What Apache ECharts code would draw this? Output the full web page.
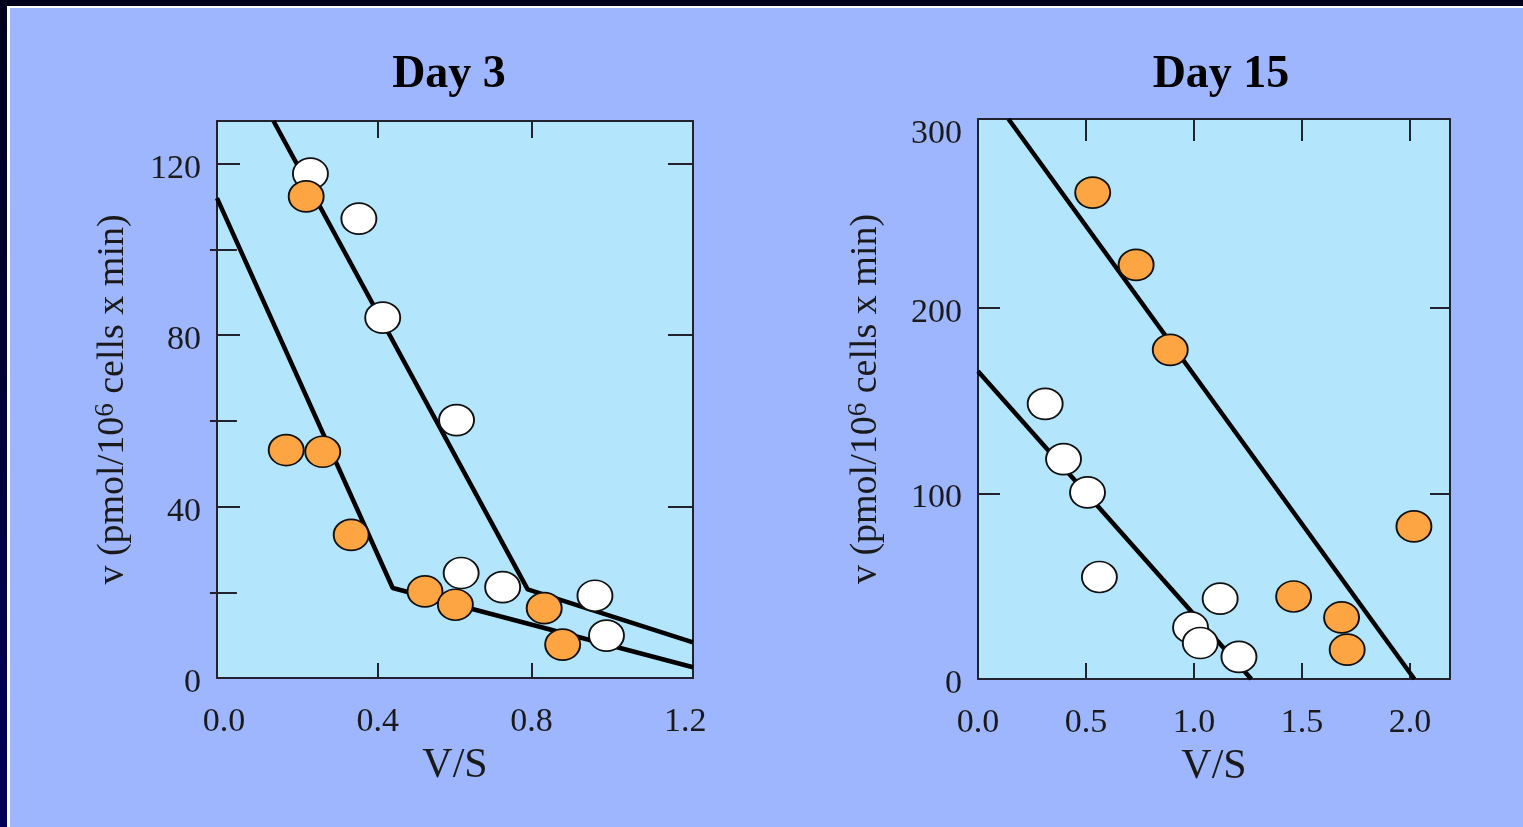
<!DOCTYPE html>
<html>
<head>
<meta charset="utf-8">
<script src="https://cdn.jsdelivr.net/npm/echarts@6/dist/echarts.min.js"></script>
<style>
html,body{margin:0;padding:0;}
#c{width:1523px;height:827px;}
</style>
</head>
<body>
<div id="c"></div>
<script>
// ---- data ----
const titles = ['Day 3', 'Day 15'];
const xName = 'V/S';

const day3XTicks = [0.0, 0.4, 0.8, 1.2];
const day3YMajor = [0, 40, 80, 120];
const day3YMinor = [20, 60, 100];
const day15XTicks = [0.0, 0.5, 1.0, 1.5, 2.0];
const day15YTicks = [0, 100, 200, 300];

const day3White = [[0.225,117.7],[0.351,107.2],[0.413,84.1],[0.605,60.2],[0.617,24.5],[0.725,21.2],[0.965,19.2],[0.995,9.9]];
const day3Orange = [[0.214,112.4],[0.162,53.2],[0.257,52.8],[0.331,33.4],[0.523,20.2],[0.602,17.1],[0.833,16.3],[0.881,7.8]];
const day3WhiteFit = [[0.129,130],[0.79,20.7],[1.22,8.3]];
const day3OrangeFit = [[-0.018,112],[0.439,21],[1.22,2.5]];

const day15White = [[0.311,148.4],[0.396,118.6],[0.507,100.6],[0.562,55],[0.984,27.8],[1.029,19.4],[1.121,43.3],[1.208,11.9]];
const day15Orange = [[0.531,262.3],[0.732,223.3],[0.89,177.5],[1.461,44.5],[1.683,33.2],[1.709,15.8],[2.018,82.3]];
const day15OrangeFit = [[0.141,302],[2.02,0]];
const day15WhiteFit = [[0,166],[1.265,0]];

// ---- styles ----
const SERIF = '"Liberation Serif", "DejaVu Serif", serif';
const INK = '#1a1a1a';
const FRAME = '#22222e';
const ORANGE = '#fda443';
const PLOTBG = '#b3e5fc';
const PAGE = '#9eb6fd';

const chart = echarts.init(document.getElementById('c'));

function boxLine(){ return {show:true, onZero:false, lineStyle:{color:FRAME, width:2}}; }
function ticks(vals, len){ return {show:true, inside:true, length:len, customValues:vals, lineStyle:{color:FRAME, width:2}}; }
const labelStyle = {color:INK, fontFamily:SERIF, fontSize:34};

const yLabelRich = {
  n:{fontFamily:SERIF, fontSize:34, color:INK, padding:[10,0,0,0]},
  t:{fontFamily:SERIF, fontSize:34, color:INK, padding:[22,0,0,0]}
};
function yLabelFmt(v){ return (v === 300 ? '{t|' : '{n|') + v + '}'; }

const yNameRich = {
  sup:{fontSize:27, fontFamily:SERIF, color:INK, verticalAlign:'top', padding:[0,0,16,0]}
};
const yNameText = 'v (pmol/10{sup|6} cells x min)';

const grids = [
  {left:217, top:121, width:476, height:557, show:true, backgroundColor:PLOTBG, borderWidth:0},
  {left:978, top:119, width:472, height:560, show:true, backgroundColor:PLOTBG, borderWidth:0}
];

const xAxes = [
  // Day 3 bottom
  {gridIndex:0, type:'value', position:'bottom', min:-0.018, max:1.22,
   axisLine:boxLine(), axisTick:ticks([0.4,0.8],15), splitLine:{show:false},
   axisLabel:Object.assign({customValues:day3XTicks, margin:27, formatter:v=>v.toFixed(1)}, labelStyle),
   name:xName, nameLocation:'middle', nameGap:67,
   nameTextStyle:{fontFamily:SERIF, fontSize:42, color:INK}},
  // Day 3 top
  {gridIndex:0, type:'value', position:'top', min:-0.018, max:1.22,
   axisLine:boxLine(), axisTick:ticks([0.4,0.8],17), splitLine:{show:false}, axisLabel:{show:false}},
  // Day 15 bottom
  {gridIndex:1, type:'value', position:'bottom', min:0, max:2.185,
   axisLine:boxLine(), axisTick:ticks([0.5,1.0,1.5,2.0],16), splitLine:{show:false},
   axisLabel:Object.assign({customValues:day15XTicks, margin:27, formatter:v=>v.toFixed(1)}, labelStyle),
   name:xName, nameLocation:'middle', nameGap:67,
   nameTextStyle:{fontFamily:SERIF, fontSize:42, color:INK}},
  // Day 15 top
  {gridIndex:1, type:'value', position:'top', min:0, max:2.185,
   axisLine:boxLine(), axisTick:ticks([0.5,1.0,1.5,2.0],22), splitLine:{show:false}, axisLabel:{show:false}}
];

const yAxes = [
  // Day 3 left major (0)
  {gridIndex:0, type:'value', position:'left', min:0, max:130,
   axisLine:boxLine(), axisTick:ticks([40,80,120],23), splitLine:{show:false},
   axisLabel:Object.assign({customValues:day3YMajor, margin:16, formatter:yLabelFmt, rich:yLabelRich}, labelStyle),
   name:yNameText, nameLocation:'middle', nameGap:82, nameRotate:90,
   nameTextStyle:{fontFamily:SERIF, fontSize:38, color:INK, rich:yNameRich}},
  // Day 3 left minor (1)
  {gridIndex:0, type:'value', position:'left', min:0, max:130,
   axisLine:{show:false}, axisTick:ticks(day3YMinor,13), splitLine:{show:false}, axisLabel:{show:false}},
  // Day 3 right major (2)
  {gridIndex:0, type:'value', position:'right', min:0, max:130,
   axisLine:boxLine(), axisTick:ticks([40,80,120],25), splitLine:{show:false}, axisLabel:{show:false}},
  // Day 3 right minor (3)
  {gridIndex:0, type:'value', position:'right', min:0, max:130,
   axisLine:{show:false}, axisTick:ticks(day3YMinor,14), splitLine:{show:false}, axisLabel:{show:false}},
  // Day 15 left (4)
  {gridIndex:1, type:'value', position:'left', min:0, max:302,
   axisLine:boxLine(), axisTick:ticks([100,200],22), splitLine:{show:false},
   axisLabel:Object.assign({customValues:day15YTicks, margin:16, formatter:yLabelFmt, rich:yLabelRich}, labelStyle),
   name:yNameText, nameLocation:'middle', nameGap:90, nameRotate:90,
   nameTextStyle:{fontFamily:SERIF, fontSize:38, color:INK, rich:yNameRich}},
  // Day 15 right (5)
  {gridIndex:1, type:'value', position:'right', min:0, max:302,
   axisLine:boxLine(), axisTick:ticks([100,200],20), splitLine:{show:false}, axisLabel:{show:false}}
];

function fitLine(data, xi, yi){
  return {type:'line', data:data, xAxisIndex:xi, yAxisIndex:yi, symbol:'none', z:2,
          lineStyle:{color:'#000', width:4.5, cap:'butt'}, silent:true, animation:false};
}
function dots(data, xi, yi, color){
  return {type:'scatter', data:data, xAxisIndex:xi, yAxisIndex:yi, symbol:'circle', symbolSize:[35,31], z:3,
          itemStyle:{color:color, opacity:1, borderColor:'#111', borderWidth:1.8}, animation:false};
}

const option = {
  animation:false,
  backgroundColor:{type:'linear', x:0, y:0, x2:0, y2:1, colorStops:[{offset:0,color:'#00001c'},{offset:1,color:'#00005a'}]},
  graphic:[
    {type:'rect', z:-10, shape:{x:7, y:6, width:1516, height:821}, style:{fill:'#ffffff'}, silent:true},
    {type:'rect', z:-9, shape:{x:10, y:8, width:1513, height:819}, style:{fill:PAGE}, silent:true},
    {type:'text', x:449, y:75, style:{text:titles[0], font:'bold 46px ' + SERIF, fill:'#000', align:'center', verticalAlign:'middle'}},
    {type:'text', x:1221, y:75, style:{text:titles[1], font:'bold 46px ' + SERIF, fill:'#000', align:'center', verticalAlign:'middle'}}
  ],
  grid:grids,
  xAxis:xAxes,
  yAxis:yAxes,
  series:[
    fitLine(day3WhiteFit,0,0),
    fitLine(day3OrangeFit,0,0),
    dots(day3White,0,0,'#ffffff'),
    dots(day3Orange,0,0,ORANGE),
    fitLine(day15OrangeFit,2,4),
    fitLine(day15WhiteFit,2,4),
    dots(day15White,2,4,'#ffffff'),
    dots(day15Orange,2,4,ORANGE)
  ]
};
chart.setOption(option);
</script>
</body>
</html>
